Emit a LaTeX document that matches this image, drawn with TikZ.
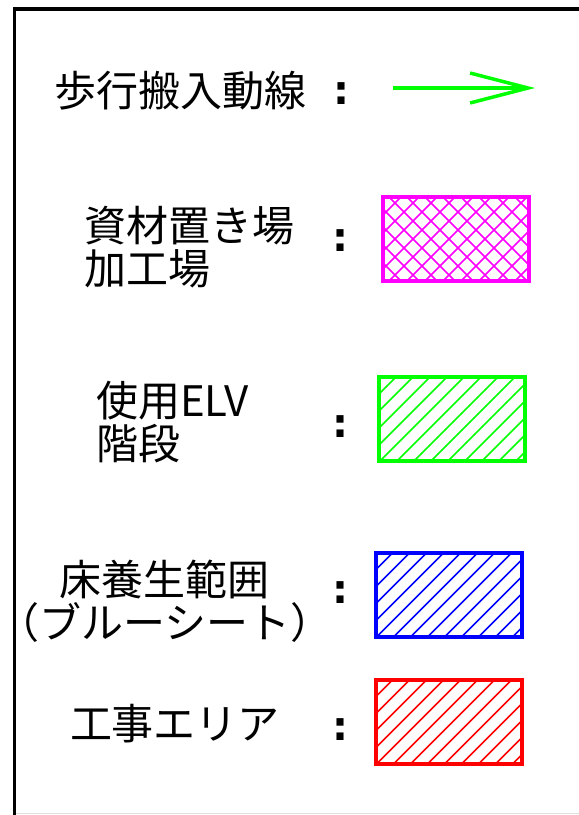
\documentclass[tikz,border=0pt]{standalone}
\usepackage{xcolor}
\usepackage{tikz}
\usepackage{fontspec}
\newfontfamily\jpfont{Noto Sans CJK JP}
\newfontfamily\colonfont{DejaVu Sans}
\usetikzlibrary{arrows.meta, positioning, calc}

\definecolor{walkgreen}{RGB}{0,255,0}
\definecolor{matmagenta}{RGB}{255,0,255}
\definecolor{sheetblue}{RGB}{0,0,255}
\definecolor{workred}{RGB}{255,0,0}

\begin{document}
\begin{tikzpicture}[x=1pt, y=-1pt,
    legendtext/.style={font=\jpfont\fontsize{42}{43}\selectfont, inner sep=0pt},
    colonmark/.style={font=\colonfont\bfseries\fontsize{40}{40}\selectfont, inner sep=0pt},
    walkline/.style={walkgreen, line width=3.5pt, -{Straight Barb[length=58pt, width=30pt]}},
    areabox/.style={draw=#1, line width=4pt, minimum width=146pt, minimum height=84pt, inner sep=0pt,
        path picture={
            \foreach \c in {0,17,...,255}
                \draw[#1, line width=1.6pt] ([xshift={\c pt-84pt}]path picture bounding box.south west) -- ++(84,-84);
        }},
    crossbox/.style={draw=#1, line width=4pt, minimum width=146pt, minimum height=84pt, inner sep=0pt,
        path picture={
            \foreach \c in {0,18,...,252} {
                \draw[#1, line width=1.6pt] ([xshift={\c pt-84pt}]path picture bounding box.south west) -- ++(84,-84);
                \draw[#1, line width=1.6pt] ([xshift={\c pt-84pt}]path picture bounding box.north west) -- ++(84,84);
            }
        }}
]
    \useasboundingbox (0,0) rectangle (579,815);
    \draw[line width=3.5pt] (14.3,815) -- (14.3,9) -- (579,9);
    \draw[black!12, line width=0.8pt] (16,813.5) -- (579,813.5);

    \node[legendtext, anchor=west] (walktext) at (54,91) {歩行搬入動線};
    \node[colonmark] (walkcolon) at (341,94) {:};
    \coordinate (walkstart) at (393,88);
    \coordinate (walkend) at (535,88);
    \draw[walkline] (walkstart) -- (walkend);

    \node[legendtext, anchor=west, align=left] (mattext) at (84,247) {資材置き場\\加工場};
    \node[colonmark] (matcolon) at (340,241) {:};
    \node[crossbox=matmagenta] (matbox) at (456,239) {};

    \node[legendtext, anchor=west, align=left] (elvtext) at (96,422) {使用ELV\\階段};
    \node[colonmark] (elvcolon) at (340,427) {:};
    \node[areabox=walkgreen] (elvbox) at (452,419) {};

    \node[legendtext, align=center] (sheettext) at (165,601) {床養生範囲\\\kern-0.55em（ブルーシート）\kern-0.55em};
    \node[colonmark] (sheetcolon) at (340,593) {:};
    \node[areabox=sheetblue] (sheetbox) at (449,594.5) {};

    \node[legendtext] (worktext) at (175,724) {工事エリア};
    \node[colonmark] (workcolon) at (340,730) {:};
    \node[areabox=workred] (workbox) at (448.5,722) {};
\end{tikzpicture}
\end{document}
